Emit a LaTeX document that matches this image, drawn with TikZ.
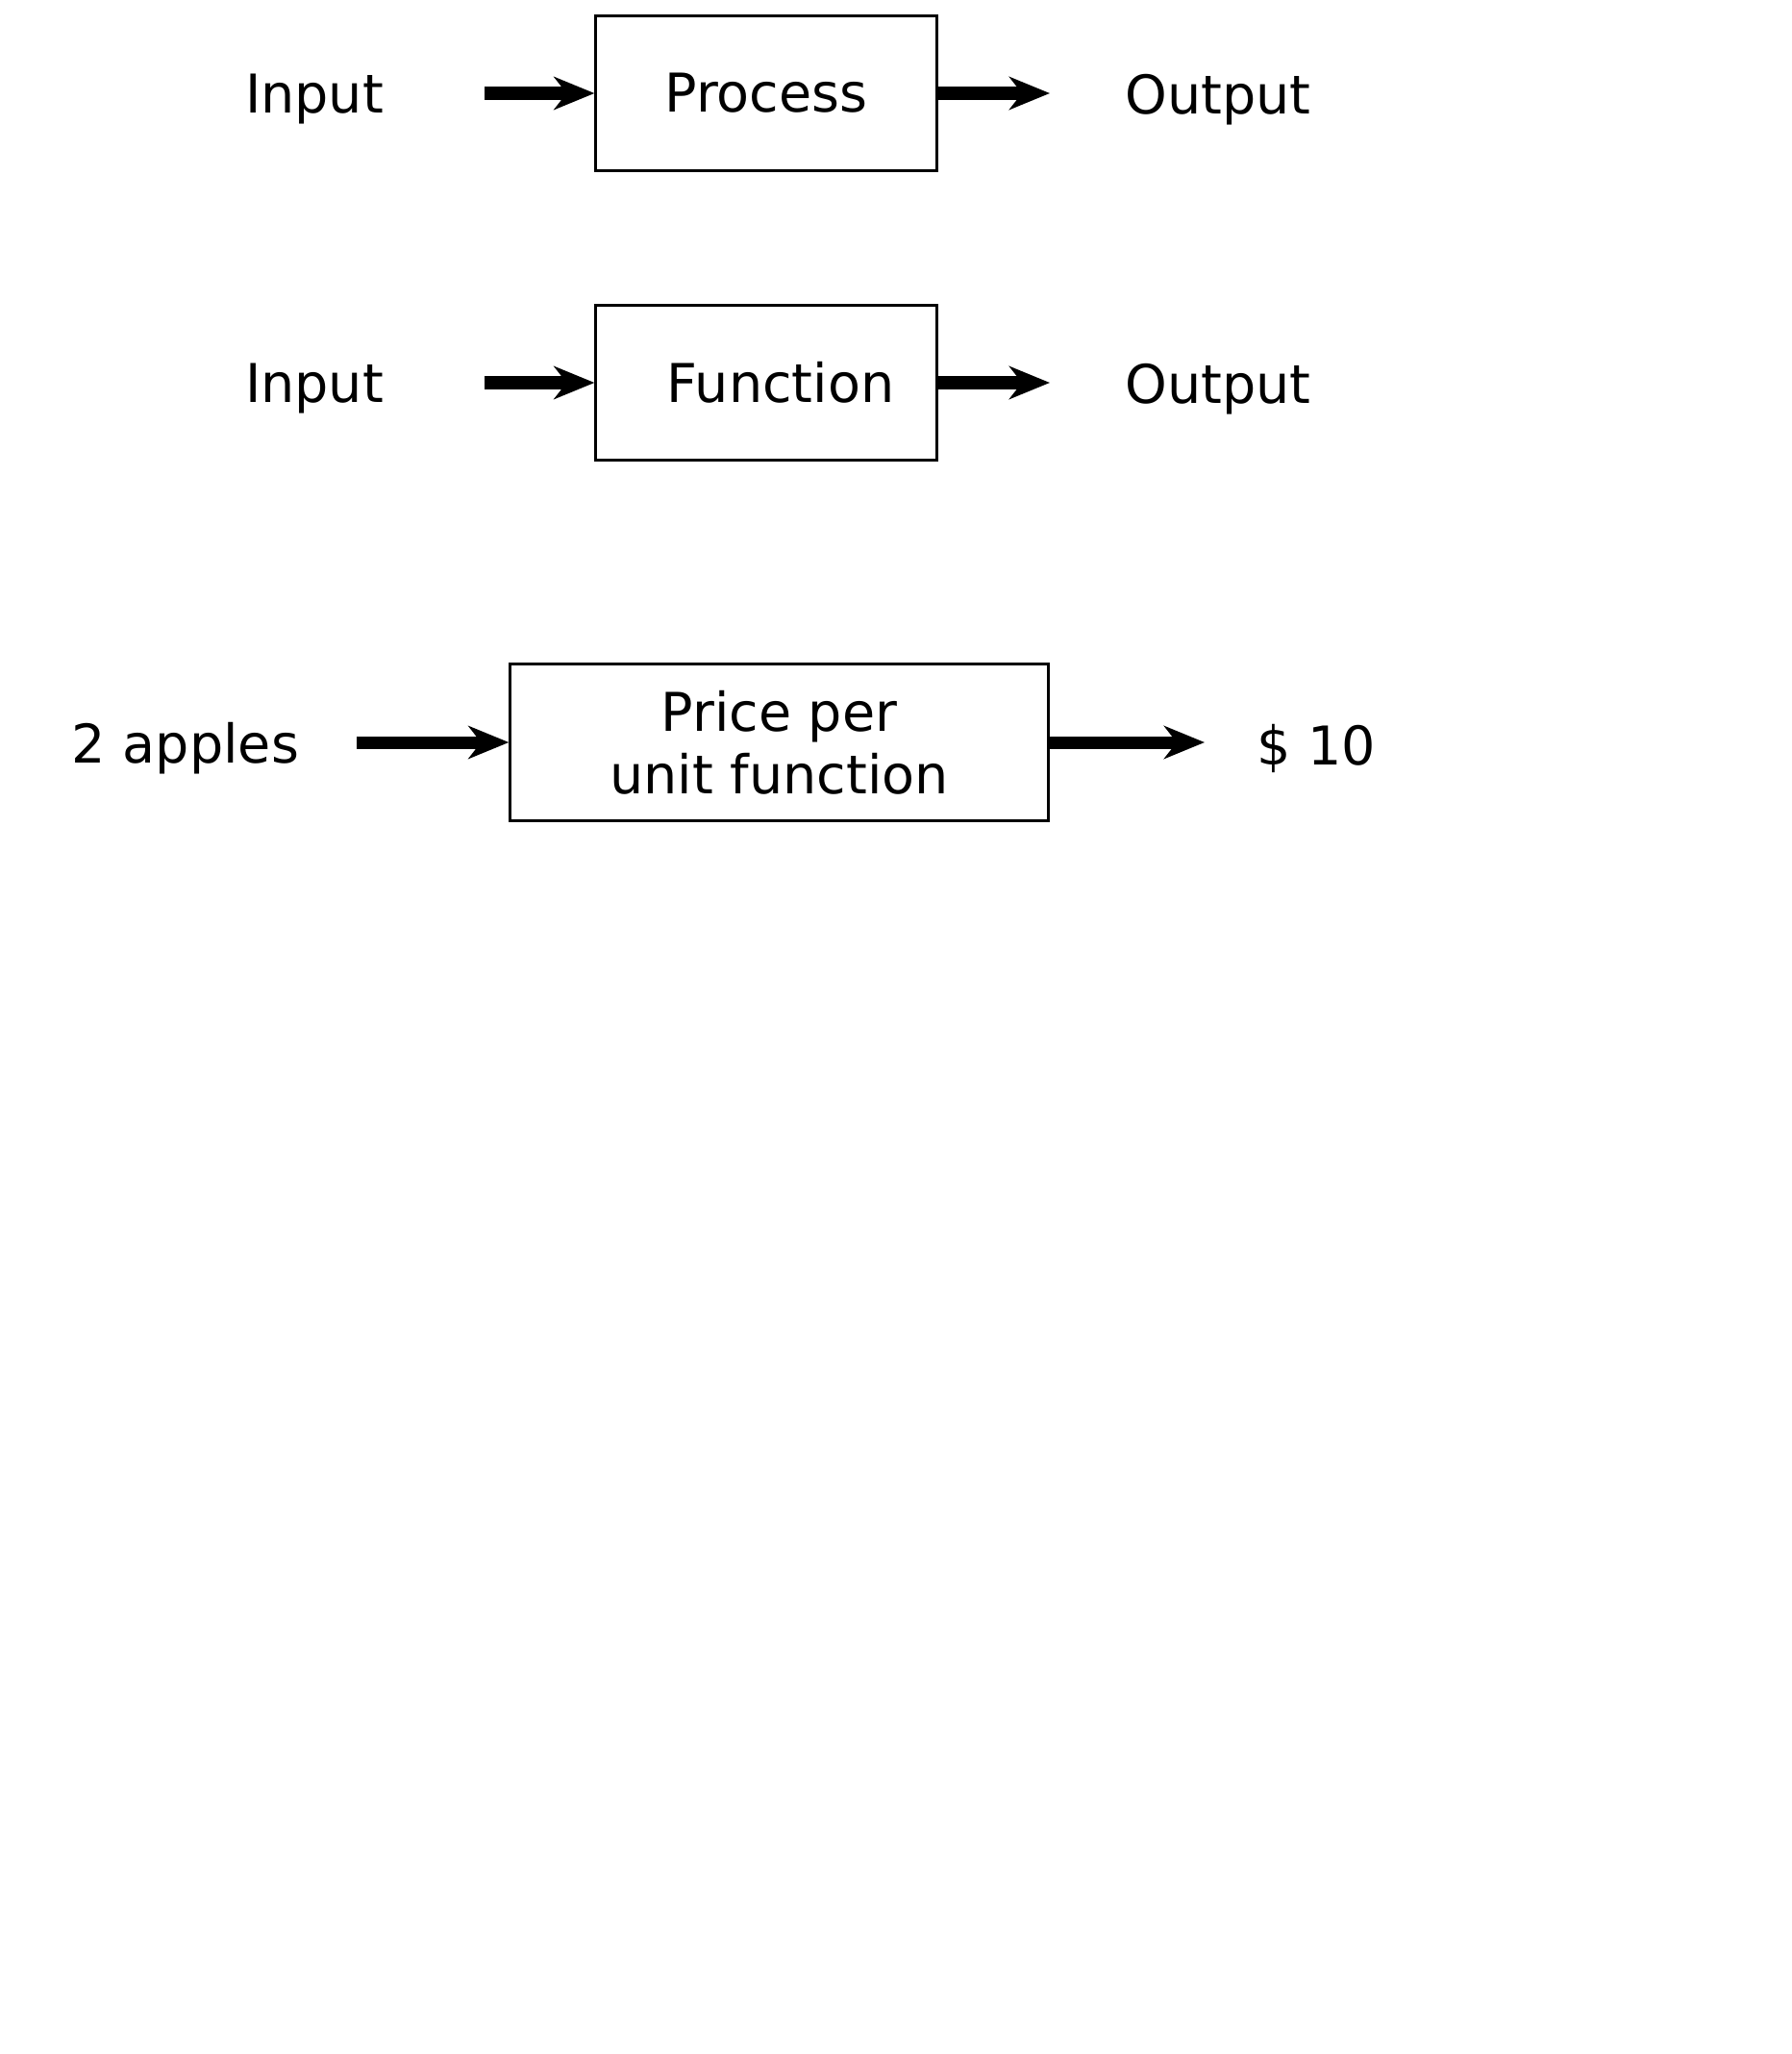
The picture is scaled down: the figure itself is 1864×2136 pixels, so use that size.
\documentclass[tikz,border=0pt]{standalone}
\usepackage{fontspec}
\setmainfont{DejaVu Sans}
\usepackage{tikz}
\usetikzlibrary{arrows.meta, positioning}
\newcommand{\diafont}{\fontsize{15.8pt}{18.6pt}\selectfont}
\tikzset{
  box/.style={rectangle, draw=black, line width=0.85pt,
    minimum width=3.54cm, minimum height=1.61cm, align=center,
    font=\diafont, inner sep=0pt},
  widebox/.style={box, minimum width=5.59cm, minimum height=1.62cm},
  txt/.style={font=\diafont, inner sep=0pt, yshift=-0.065cm},
  flow/.style={-{Stealth[length=4.2mm, width=3.4mm, inset=1.3mm]},
    line width=3.7pt, color=black}
}

\begin{document}
\begin{tikzpicture}[x=0.01cm, y=-0.01cm]
  \useasboundingbox (0,0) rectangle (1864,2136);
  % process row
  \node[box] (proc) at (797,97) {Process};
  \node[txt] (inp1) at (327,97) {Input};
  \node[txt] (out1) at (1267,97) {Output};
  \coordinate (in1) at (504,97);
  \coordinate (tip1) at (1092,97);
  \draw[flow] (in1) -- (proc);
  \draw[flow] (proc) -- (tip1);
  % function row
  \node[box] (func) at (797,398) {\hspace*{0.3cm}Function};
  \node[txt] (inp2) at (327,398) {Input};
  \node[txt] (out2) at (1267,398) {Output};
  \coordinate (in2) at (504,398);
  \coordinate (tip2) at (1092,398);
  \draw[flow] (in2) -- (func);
  \draw[flow] (func) -- (tip2);
  % apples example
  \node[widebox] (price) at (810.5,772) {Price per\\unit function};
  \node[txt] (apples) at (193,772) {2 apples};
  \node[txt] (cost) at (1369,772) {\$ 10};
  \coordinate (in3) at (371,772);
  \coordinate (tip3) at (1253,772);
  \draw[flow] (in3) -- (price);
  \draw[flow] (price) -- (tip3);
\end{tikzpicture}
\end{document}
